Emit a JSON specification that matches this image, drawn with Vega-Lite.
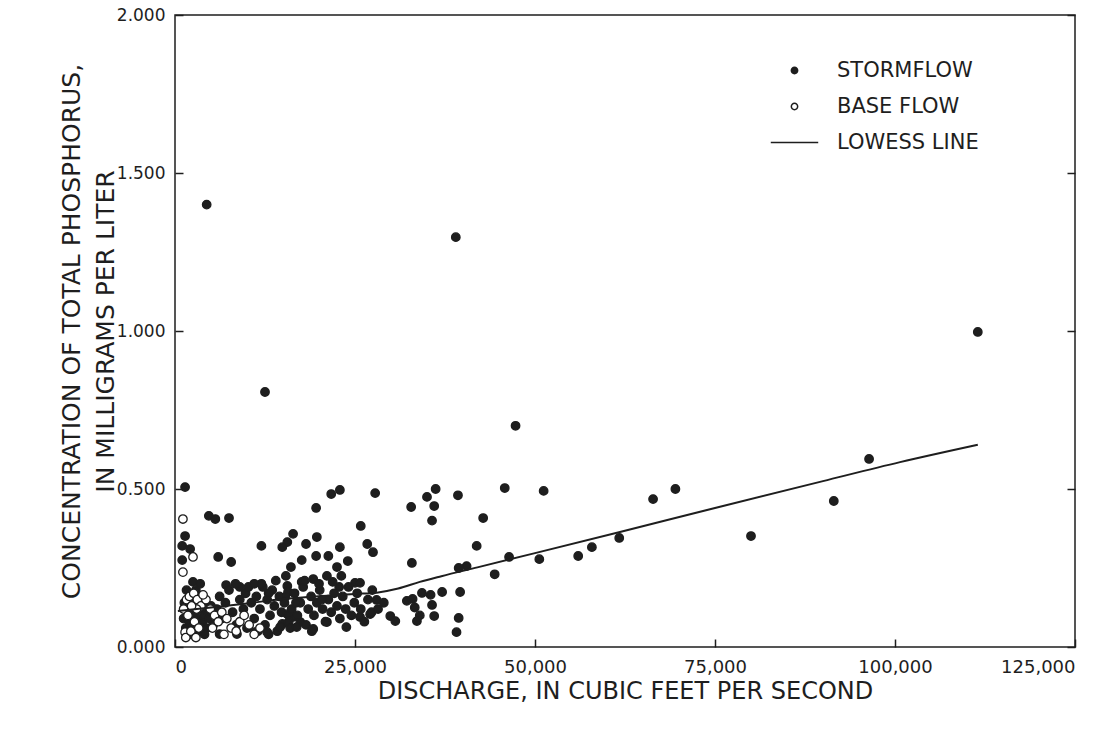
{
  "$schema": "https://vega.github.io/schema/vega-lite/v6.json",
  "width": 900,
  "height": 632,
  "autosize": {"type": "none"},
  "padding": {"left": 175, "top": 15, "right": 37, "bottom": 82},
  "background": "white",
  "config": {
    "view": {"stroke": "#1e1e1e", "strokeWidth": 1.5},
    "font": "DejaVu Sans",
    "axis": {"labelFont": "DejaVu Sans", "titleFont": "DejaVu Sans", "labelColor": "#1e1e1e", "titleColor": "#1e1e1e", "titleFontWeight": "normal", "grid": false, "domain": false, "tickColor": "#1e1e1e", "tickWidth": 1.5}
  },
  "resolve": {"axis": {"y": "independent"}},
  "datasets": {
    "obs": [
      {"discharge": 4400, "phosphorus": 1.40, "series": "STORMFLOW"},
      {"discharge": 39000, "phosphorus": 1.297, "series": "STORMFLOW"},
      {"discharge": 12500, "phosphorus": 0.807, "series": "STORMFLOW"},
      {"discharge": 111500, "phosphorus": 0.997, "series": "STORMFLOW"},
      {"discharge": 47300, "phosphorus": 0.70, "series": "STORMFLOW"},
      {"discharge": 96400, "phosphorus": 0.595, "series": "STORMFLOW"},
      {"discharge": 91500, "phosphorus": 0.462, "series": "STORMFLOW"},
      {"discharge": 80000, "phosphorus": 0.351, "series": "STORMFLOW"},
      {"discharge": 66400, "phosphorus": 0.468, "series": "STORMFLOW"},
      {"discharge": 69500, "phosphorus": 0.50, "series": "STORMFLOW"},
      {"discharge": 61700, "phosphorus": 0.345, "series": "STORMFLOW"},
      {"discharge": 57900, "phosphorus": 0.316, "series": "STORMFLOW"},
      {"discharge": 56000, "phosphorus": 0.288, "series": "STORMFLOW"},
      {"discharge": 50600, "phosphorus": 0.278, "series": "STORMFLOW"},
      {"discharge": 51200, "phosphorus": 0.494, "series": "STORMFLOW"},
      {"discharge": 45800, "phosphorus": 0.503, "series": "STORMFLOW"},
      {"discharge": 46400, "phosphorus": 0.285, "series": "STORMFLOW"},
      {"discharge": 44400, "phosphorus": 0.23, "series": "STORMFLOW"},
      {"discharge": 42800, "phosphorus": 0.408, "series": "STORMFLOW"},
      {"discharge": 41900, "phosphorus": 0.32, "series": "STORMFLOW"},
      {"discharge": 40500, "phosphorus": 0.256, "series": "STORMFLOW"},
      {"discharge": 39400, "phosphorus": 0.25, "series": "STORMFLOW"},
      {"discharge": 39300, "phosphorus": 0.48, "series": "STORMFLOW"},
      {"discharge": 36200, "phosphorus": 0.50, "series": "STORMFLOW"},
      {"discharge": 35000, "phosphorus": 0.475, "series": "STORMFLOW"},
      {"discharge": 36000, "phosphorus": 0.446, "series": "STORMFLOW"},
      {"discharge": 35700, "phosphorus": 0.40, "series": "STORMFLOW"},
      {"discharge": 32800, "phosphorus": 0.443, "series": "STORMFLOW"},
      {"discharge": 32900, "phosphorus": 0.266, "series": "STORMFLOW"},
      {"discharge": 34300, "phosphorus": 0.171, "series": "STORMFLOW"},
      {"discharge": 35500, "phosphorus": 0.165, "series": "STORMFLOW"},
      {"discharge": 37100, "phosphorus": 0.174, "series": "STORMFLOW"},
      {"discharge": 39600, "phosphorus": 0.174, "series": "STORMFLOW"},
      {"discharge": 35700, "phosphorus": 0.133, "series": "STORMFLOW"},
      {"discharge": 34000, "phosphorus": 0.10, "series": "STORMFLOW"},
      {"discharge": 36000, "phosphorus": 0.098, "series": "STORMFLOW"},
      {"discharge": 39400, "phosphorus": 0.092, "series": "STORMFLOW"},
      {"discharge": 39100, "phosphorus": 0.047, "series": "STORMFLOW"},
      {"discharge": 32200, "phosphorus": 0.146, "series": "STORMFLOW"},
      {"discharge": 33000, "phosphorus": 0.152, "series": "STORMFLOW"},
      {"discharge": 33600, "phosphorus": 0.082, "series": "STORMFLOW"},
      {"discharge": 33300, "phosphorus": 0.125, "series": "STORMFLOW"},
      {"discharge": 27800, "phosphorus": 0.487, "series": "STORMFLOW"},
      {"discharge": 22900, "phosphorus": 0.497, "series": "STORMFLOW"},
      {"discharge": 21700, "phosphorus": 0.484, "series": "STORMFLOW"},
      {"discharge": 19600, "phosphorus": 0.44, "series": "STORMFLOW"},
      {"discharge": 25800, "phosphorus": 0.383, "series": "STORMFLOW"},
      {"discharge": 16400, "phosphorus": 0.358, "series": "STORMFLOW"},
      {"discharge": 15600, "phosphorus": 0.332, "series": "STORMFLOW"},
      {"discharge": 14900, "phosphorus": 0.316, "series": "STORMFLOW"},
      {"discharge": 19700, "phosphorus": 0.348, "series": "STORMFLOW"},
      {"discharge": 18200, "phosphorus": 0.326, "series": "STORMFLOW"},
      {"discharge": 22900, "phosphorus": 0.316, "series": "STORMFLOW"},
      {"discharge": 26700, "phosphorus": 0.326, "series": "STORMFLOW"},
      {"discharge": 27500, "phosphorus": 0.30, "series": "STORMFLOW"},
      {"discharge": 17600, "phosphorus": 0.275, "series": "STORMFLOW"},
      {"discharge": 19600, "phosphorus": 0.288, "series": "STORMFLOW"},
      {"discharge": 21300, "phosphorus": 0.288, "series": "STORMFLOW"},
      {"discharge": 24000, "phosphorus": 0.272, "series": "STORMFLOW"},
      {"discharge": 16100, "phosphorus": 0.253, "series": "STORMFLOW"},
      {"discharge": 22500, "phosphorus": 0.253, "series": "STORMFLOW"},
      {"discharge": 15400, "phosphorus": 0.225, "series": "STORMFLOW"},
      {"discharge": 23100, "phosphorus": 0.225, "series": "STORMFLOW"},
      {"discharge": 17600, "phosphorus": 0.206, "series": "STORMFLOW"},
      {"discharge": 19200, "phosphorus": 0.215, "series": "STORMFLOW"},
      {"discharge": 21100, "phosphorus": 0.225, "series": "STORMFLOW"},
      {"discharge": 21900, "phosphorus": 0.206, "series": "STORMFLOW"},
      {"discharge": 25000, "phosphorus": 0.203, "series": "STORMFLOW"},
      {"discharge": 25700, "phosphorus": 0.203, "series": "STORMFLOW"},
      {"discharge": 27400, "phosphorus": 0.18, "series": "STORMFLOW"},
      {"discharge": 28000, "phosphorus": 0.149, "series": "STORMFLOW"},
      {"discharge": 15600, "phosphorus": 0.193, "series": "STORMFLOW"},
      {"discharge": 15700, "phosphorus": 0.174, "series": "STORMFLOW"},
      {"discharge": 15300, "phosphorus": 0.158, "series": "STORMFLOW"},
      {"discharge": 29900, "phosphorus": 0.098, "series": "STORMFLOW"},
      {"discharge": 30600, "phosphorus": 0.082, "series": "STORMFLOW"},
      {"discharge": 21100, "phosphorus": 0.079, "series": "STORMFLOW"},
      {"discharge": 23800, "phosphorus": 0.063, "series": "STORMFLOW"},
      {"discharge": 25700, "phosphorus": 0.095, "series": "STORMFLOW"},
      {"discharge": 27100, "phosphorus": 0.104, "series": "STORMFLOW"},
      {"discharge": 17400, "phosphorus": 0.079, "series": "STORMFLOW"},
      {"discharge": 16400, "phosphorus": 0.095, "series": "STORMFLOW"},
      {"discharge": 15600, "phosphorus": 0.104, "series": "STORMFLOW"},
      {"discharge": 14900, "phosphorus": 0.073, "series": "STORMFLOW"},
      {"discharge": 1400, "phosphorus": 0.506, "series": "STORMFLOW"},
      {"discharge": 4700, "phosphorus": 0.415, "series": "STORMFLOW"},
      {"discharge": 5600, "phosphorus": 0.405, "series": "STORMFLOW"},
      {"discharge": 7500, "phosphorus": 0.408, "series": "STORMFLOW"},
      {"discharge": 1400, "phosphorus": 0.351, "series": "STORMFLOW"},
      {"discharge": 1000, "phosphorus": 0.32, "series": "STORMFLOW"},
      {"discharge": 2100, "phosphorus": 0.31, "series": "STORMFLOW"},
      {"discharge": 1000, "phosphorus": 0.275, "series": "STORMFLOW"},
      {"discharge": 6000, "phosphorus": 0.285, "series": "STORMFLOW"},
      {"discharge": 7800, "phosphorus": 0.269, "series": "STORMFLOW"},
      {"discharge": 12000, "phosphorus": 0.32, "series": "STORMFLOW"},
      {"discharge": 2500, "phosphorus": 0.206, "series": "STORMFLOW"},
      {"discharge": 7100, "phosphorus": 0.196, "series": "STORMFLOW"},
      {"discharge": 1200, "phosphorus": 0.09, "series": "STORMFLOW"},
      {"discharge": 1500, "phosphorus": 0.06, "series": "STORMFLOW"},
      {"discharge": 1800, "phosphorus": 0.12, "series": "STORMFLOW"},
      {"discharge": 2000, "phosphorus": 0.08, "series": "STORMFLOW"},
      {"discharge": 2200, "phosphorus": 0.15, "series": "STORMFLOW"},
      {"discharge": 2400, "phosphorus": 0.11, "series": "STORMFLOW"},
      {"discharge": 2600, "phosphorus": 0.07, "series": "STORMFLOW"},
      {"discharge": 2800, "phosphorus": 0.13, "series": "STORMFLOW"},
      {"discharge": 3000, "phosphorus": 0.09, "series": "STORMFLOW"},
      {"discharge": 3200, "phosphorus": 0.05, "series": "STORMFLOW"},
      {"discharge": 3400, "phosphorus": 0.12, "series": "STORMFLOW"},
      {"discharge": 3600, "phosphorus": 0.16, "series": "STORMFLOW"},
      {"discharge": 3800, "phosphorus": 0.08, "series": "STORMFLOW"},
      {"discharge": 4000, "phosphorus": 0.10, "series": "STORMFLOW"},
      {"discharge": 4200, "phosphorus": 0.14, "series": "STORMFLOW"},
      {"discharge": 4400, "phosphorus": 0.06, "series": "STORMFLOW"},
      {"discharge": 4600, "phosphorus": 0.11, "series": "STORMFLOW"},
      {"discharge": 4800, "phosphorus": 0.09, "series": "STORMFLOW"},
      {"discharge": 5000, "phosphorus": 0.13, "series": "STORMFLOW"},
      {"discharge": 1600, "phosphorus": 0.18, "series": "STORMFLOW"},
      {"discharge": 2900, "phosphorus": 0.18, "series": "STORMFLOW"},
      {"discharge": 3500, "phosphorus": 0.20, "series": "STORMFLOW"},
      {"discharge": 4100, "phosphorus": 0.04, "series": "STORMFLOW"},
      {"discharge": 1300, "phosphorus": 0.14, "series": "STORMFLOW"},
      {"discharge": 2300, "phosphorus": 0.04, "series": "STORMFLOW"},
      {"discharge": 5300, "phosphorus": 0.07, "series": "STORMFLOW"},
      {"discharge": 1700, "phosphorus": 0.10, "series": "STORMFLOW"},
      {"discharge": 2700, "phosphorus": 0.10, "series": "STORMFLOW"},
      {"discharge": 3700, "phosphorus": 0.06, "series": "STORMFLOW"},
      {"discharge": 1900, "phosphorus": 0.05, "series": "STORMFLOW"},
      {"discharge": 3100, "phosphorus": 0.14, "series": "STORMFLOW"},
      {"discharge": 5800, "phosphorus": 0.12, "series": "STORMFLOW"},
      {"discharge": 6200, "phosphorus": 0.16, "series": "STORMFLOW"},
      {"discharge": 6500, "phosphorus": 0.09, "series": "STORMFLOW"},
      {"discharge": 7000, "phosphorus": 0.14, "series": "STORMFLOW"},
      {"discharge": 7500, "phosphorus": 0.18, "series": "STORMFLOW"},
      {"discharge": 8000, "phosphorus": 0.11, "series": "STORMFLOW"},
      {"discharge": 8500, "phosphorus": 0.07, "series": "STORMFLOW"},
      {"discharge": 9000, "phosphorus": 0.15, "series": "STORMFLOW"},
      {"discharge": 9500, "phosphorus": 0.12, "series": "STORMFLOW"},
      {"discharge": 9800, "phosphorus": 0.17, "series": "STORMFLOW"},
      {"discharge": 10200, "phosphorus": 0.19, "series": "STORMFLOW"},
      {"discharge": 10600, "phosphorus": 0.14, "series": "STORMFLOW"},
      {"discharge": 11000, "phosphorus": 0.09, "series": "STORMFLOW"},
      {"discharge": 11300, "phosphorus": 0.16, "series": "STORMFLOW"},
      {"discharge": 11800, "phosphorus": 0.12, "series": "STORMFLOW"},
      {"discharge": 12200, "phosphorus": 0.19, "series": "STORMFLOW"},
      {"discharge": 12500, "phosphorus": 0.07, "series": "STORMFLOW"},
      {"discharge": 12800, "phosphorus": 0.15, "series": "STORMFLOW"},
      {"discharge": 13200, "phosphorus": 0.10, "series": "STORMFLOW"},
      {"discharge": 13500, "phosphorus": 0.18, "series": "STORMFLOW"},
      {"discharge": 13800, "phosphorus": 0.13, "series": "STORMFLOW"},
      {"discharge": 14200, "phosphorus": 0.05, "series": "STORMFLOW"},
      {"discharge": 14500, "phosphorus": 0.16, "series": "STORMFLOW"},
      {"discharge": 14800, "phosphorus": 0.11, "series": "STORMFLOW"},
      {"discharge": 15200, "phosphorus": 0.14, "series": "STORMFLOW"},
      {"discharge": 15800, "phosphorus": 0.08, "series": "STORMFLOW"},
      {"discharge": 16200, "phosphorus": 0.12, "series": "STORMFLOW"},
      {"discharge": 16600, "phosphorus": 0.17, "series": "STORMFLOW"},
      {"discharge": 17000, "phosphorus": 0.10, "series": "STORMFLOW"},
      {"discharge": 17400, "phosphorus": 0.14, "series": "STORMFLOW"},
      {"discharge": 17800, "phosphorus": 0.19, "series": "STORMFLOW"},
      {"discharge": 18200, "phosphorus": 0.07, "series": "STORMFLOW"},
      {"discharge": 18500, "phosphorus": 0.12, "series": "STORMFLOW"},
      {"discharge": 18900, "phosphorus": 0.16, "series": "STORMFLOW"},
      {"discharge": 19300, "phosphorus": 0.10, "series": "STORMFLOW"},
      {"discharge": 19700, "phosphorus": 0.14, "series": "STORMFLOW"},
      {"discharge": 20100, "phosphorus": 0.18, "series": "STORMFLOW"},
      {"discharge": 20500, "phosphorus": 0.12, "series": "STORMFLOW"},
      {"discharge": 20900, "phosphorus": 0.08, "series": "STORMFLOW"},
      {"discharge": 21300, "phosphorus": 0.15, "series": "STORMFLOW"},
      {"discharge": 21700, "phosphorus": 0.11, "series": "STORMFLOW"},
      {"discharge": 22100, "phosphorus": 0.17, "series": "STORMFLOW"},
      {"discharge": 22500, "phosphorus": 0.13, "series": "STORMFLOW"},
      {"discharge": 22900, "phosphorus": 0.09, "series": "STORMFLOW"},
      {"discharge": 23300, "phosphorus": 0.16, "series": "STORMFLOW"},
      {"discharge": 23700, "phosphorus": 0.12, "series": "STORMFLOW"},
      {"discharge": 24100, "phosphorus": 0.19, "series": "STORMFLOW"},
      {"discharge": 24500, "phosphorus": 0.10, "series": "STORMFLOW"},
      {"discharge": 24900, "phosphorus": 0.14, "series": "STORMFLOW"},
      {"discharge": 25300, "phosphorus": 0.17, "series": "STORMFLOW"},
      {"discharge": 25800, "phosphorus": 0.12, "series": "STORMFLOW"},
      {"discharge": 26300, "phosphorus": 0.08, "series": "STORMFLOW"},
      {"discharge": 26800, "phosphorus": 0.15, "series": "STORMFLOW"},
      {"discharge": 27300, "phosphorus": 0.11, "series": "STORMFLOW"},
      {"discharge": 28200, "phosphorus": 0.12, "series": "STORMFLOW"},
      {"discharge": 29000, "phosphorus": 0.14, "series": "STORMFLOW"},
      {"discharge": 10000, "phosphorus": 0.06, "series": "STORMFLOW"},
      {"discharge": 11500, "phosphorus": 0.05, "series": "STORMFLOW"},
      {"discharge": 13000, "phosphorus": 0.04, "series": "STORMFLOW"},
      {"discharge": 16000, "phosphorus": 0.06, "series": "STORMFLOW"},
      {"discharge": 19000, "phosphorus": 0.05, "series": "STORMFLOW"},
      {"discharge": 20000, "phosphorus": 0.20, "series": "STORMFLOW"},
      {"discharge": 18000, "phosphorus": 0.21, "series": "STORMFLOW"},
      {"discharge": 14000, "phosphorus": 0.21, "series": "STORMFLOW"},
      {"discharge": 12000, "phosphorus": 0.20, "series": "STORMFLOW"},
      {"discharge": 13000, "phosphorus": 0.17, "series": "STORMFLOW"},
      {"discharge": 16800, "phosphorus": 0.14, "series": "STORMFLOW"},
      {"discharge": 20400, "phosphorus": 0.15, "series": "STORMFLOW"},
      {"discharge": 22800, "phosphorus": 0.19, "series": "STORMFLOW"},
      {"discharge": 11000, "phosphorus": 0.20, "series": "STORMFLOW"},
      {"discharge": 9000, "phosphorus": 0.19, "series": "STORMFLOW"},
      {"discharge": 8400, "phosphorus": 0.20, "series": "STORMFLOW"},
      {"discharge": 6200, "phosphorus": 0.041, "series": "STORMFLOW"},
      {"discharge": 8600, "phosphorus": 0.041, "series": "STORMFLOW"},
      {"discharge": 11100, "phosphorus": 0.047, "series": "STORMFLOW"},
      {"discharge": 12800, "phosphorus": 0.047, "series": "STORMFLOW"},
      {"discharge": 14600, "phosphorus": 0.063, "series": "STORMFLOW"},
      {"discharge": 16900, "phosphorus": 0.063, "series": "STORMFLOW"},
      {"discharge": 19200, "phosphorus": 0.057, "series": "STORMFLOW"},
      {"discharge": 1100, "phosphorus": 0.405, "series": "BASE FLOW"},
      {"discharge": 1100, "phosphorus": 0.237, "series": "BASE FLOW"},
      {"discharge": 2500, "phosphorus": 0.285, "series": "BASE FLOW"},
      {"discharge": 1400, "phosphorus": 0.047, "series": "BASE FLOW"},
      {"discharge": 1200, "phosphorus": 0.12, "series": "BASE FLOW"},
      {"discharge": 1600, "phosphorus": 0.15, "series": "BASE FLOW"},
      {"discharge": 2000, "phosphorus": 0.16, "series": "BASE FLOW"},
      {"discharge": 2600, "phosphorus": 0.17, "series": "BASE FLOW"},
      {"discharge": 3100, "phosphorus": 0.15, "series": "BASE FLOW"},
      {"discharge": 3600, "phosphorus": 0.13, "series": "BASE FLOW"},
      {"discharge": 1800, "phosphorus": 0.10, "series": "BASE FLOW"},
      {"discharge": 2700, "phosphorus": 0.08, "series": "BASE FLOW"},
      {"discharge": 3300, "phosphorus": 0.06, "series": "BASE FLOW"},
      {"discharge": 1500, "phosphorus": 0.03, "series": "BASE FLOW"},
      {"discharge": 2200, "phosphorus": 0.05, "series": "BASE FLOW"},
      {"discharge": 4900, "phosphorus": 0.12, "series": "BASE FLOW"},
      {"discharge": 5500, "phosphorus": 0.10, "series": "BASE FLOW"},
      {"discharge": 6000, "phosphorus": 0.08, "series": "BASE FLOW"},
      {"discharge": 6500, "phosphorus": 0.11, "series": "BASE FLOW"},
      {"discharge": 7200, "phosphorus": 0.09, "series": "BASE FLOW"},
      {"discharge": 7800, "phosphorus": 0.06, "series": "BASE FLOW"},
      {"discharge": 8500, "phosphorus": 0.05, "series": "BASE FLOW"},
      {"discharge": 9000, "phosphorus": 0.08, "series": "BASE FLOW"},
      {"discharge": 9600, "phosphorus": 0.10, "series": "BASE FLOW"},
      {"discharge": 10300, "phosphorus": 0.07, "series": "BASE FLOW"},
      {"discharge": 11000, "phosphorus": 0.04, "series": "BASE FLOW"},
      {"discharge": 11800, "phosphorus": 0.06, "series": "BASE FLOW"},
      {"discharge": 4300, "phosphorus": 0.15, "series": "BASE FLOW"},
      {"discharge": 3000, "phosphorus": 0.12, "series": "BASE FLOW"},
      {"discharge": 2300, "phosphorus": 0.13, "series": "BASE FLOW"},
      {"discharge": 6800, "phosphorus": 0.04, "series": "BASE FLOW"},
      {"discharge": 5200, "phosphorus": 0.06, "series": "BASE FLOW"},
      {"discharge": 3900, "phosphorus": 0.165, "series": "BASE FLOW"},
      {"discharge": 2900, "phosphorus": 0.03, "series": "BASE FLOW"}
    ],
    "lowess": [
      {"discharge": 400, "phosphorus": 0.114},
      {"discharge": 5000, "phosphorus": 0.125},
      {"discharge": 10000, "phosphorus": 0.138},
      {"discharge": 15000, "phosphorus": 0.152},
      {"discharge": 20000, "phosphorus": 0.161},
      {"discharge": 25000, "phosphorus": 0.168},
      {"discharge": 28000, "phosphorus": 0.172},
      {"discharge": 31000, "phosphorus": 0.185},
      {"discharge": 34000, "phosphorus": 0.206},
      {"discharge": 37000, "phosphorus": 0.224},
      {"discharge": 42000, "phosphorus": 0.252},
      {"discharge": 50000, "phosphorus": 0.297},
      {"discharge": 61800, "phosphorus": 0.364},
      {"discharge": 75000, "phosphorus": 0.44},
      {"discharge": 90000, "phosphorus": 0.525},
      {"discharge": 100700, "phosphorus": 0.585},
      {"discharge": 111500, "phosphorus": 0.64}
    ]
  },
  "layer": [
    {
      "data": {"name": "obs"},
      "mark": {"type": "point", "filled": true, "size": 72, "strokeWidth": 1.3, "opacity": 1},
      "encoding": {
        "x": {
          "field": "discharge", "type": "quantitative",
          "scale": {"domain": [0, 125000], "nice": false, "zero": false},
          "axis": {"values": [0, 25000, 50000, 75000, 100000, 125000], "format": ",d", "tickSize": -8, "labelPadding": 19, "labelFontSize": 18, "title": "DISCHARGE, IN CUBIC FEET PER SECOND", "titleFontSize": 24, "titlePadding": 3}
        },
        "y": {
          "field": "phosphorus", "type": "quantitative",
          "scale": {"domain": [0, 2], "nice": false, "zero": false},
          "axis": {"orient": "left", "values": [0, 0.5, 1, 1.5, 2], "format": ".3f", "tickSize": -8, "labelPadding": 18, "labelFontSize": 17, "title": ["CONCENTRATION OF TOTAL PHOSPHORUS,", "IN MILLIGRAMS PER LITER"], "titleFontSize": 25, "titlePadding": -2, "titleLineHeight": 34}
        },
        "fill": {
          "field": "series", "type": "nominal",
          "scale": {"domain": ["STORMFLOW", "BASE FLOW", "LOWESS LINE"], "range": ["#1e1e1e", "#ffffff", "#ffffff"]},
          "legend": {"title": null, "orient": "none", "legendX": 609, "legendY": 45, "padding": 0, "labelFont": "DejaVu Sans", "labelFontSize": 21, "labelColor": "#1e1e1e", "labelOffset": 32, "rowPadding": 14, "symbolSize": 40, "symbolStrokeColor": "#1e1e1e", "symbolStrokeWidth": 1.5}
        },
        "stroke": {
          "field": "series", "type": "nominal",
          "scale": {"domain": ["STORMFLOW", "BASE FLOW", "LOWESS LINE"], "range": ["#1e1e1e", "#1e1e1e", "#1e1e1e"]},
          "legend": {"title": null, "orient": "none", "legendX": 609, "legendY": 45, "padding": 0, "labelFont": "DejaVu Sans", "labelFontSize": 21, "labelColor": "#1e1e1e", "labelOffset": 32, "rowPadding": 14, "symbolSize": 40, "symbolStrokeWidth": 1.5}
        },
        "shape": {
          "field": "series", "type": "nominal",
          "scale": {"domain": ["STORMFLOW", "BASE FLOW", "LOWESS LINE"], "range": ["circle", "circle", "M-7.5,0L7.5,0"]},
          "legend": {"title": null, "orient": "none", "legendX": 609, "legendY": 45, "padding": 0, "labelFont": "DejaVu Sans", "labelFontSize": 21, "labelColor": "#1e1e1e", "labelOffset": 32, "rowPadding": 14, "symbolSize": 40, "symbolStrokeWidth": 1.5}
        }
      }
    },
    {
      "data": {"name": "lowess"},
      "mark": {"type": "line", "color": "#1e1e1e", "strokeWidth": 2, "interpolate": "monotone"},
      "encoding": {
        "x": {"field": "discharge", "type": "quantitative"},
        "y": {"field": "phosphorus", "type": "quantitative", "axis": {"orient": "right", "values": [0, 0.5, 1, 1.5, 2], "tickSize": -8, "labels": false, "title": null}}
      }
    }
  ]
}
